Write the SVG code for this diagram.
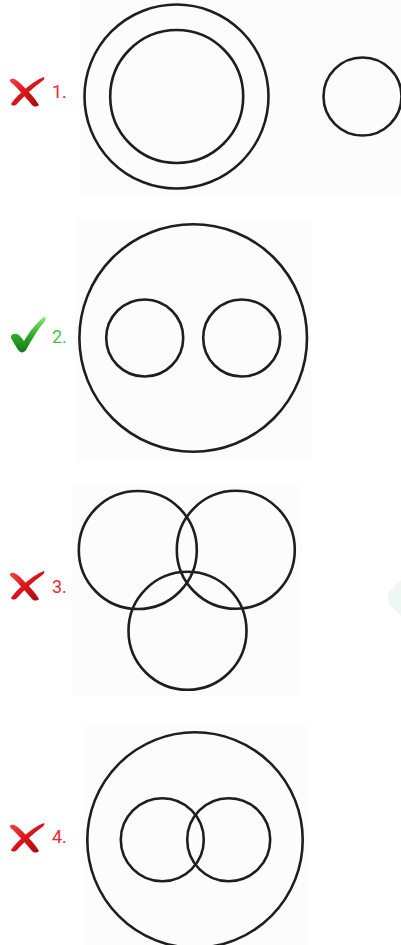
<svg xmlns="http://www.w3.org/2000/svg" width="401" height="945" viewBox="0 0 401 945">
  <defs>
    <style>
      .c { fill: none; stroke: #1e1e1e; stroke-width: 2.6; }
      .bg { fill: #fdfcfc; }
      .lblR { font-family: "Roboto", "Liberation Sans", sans-serif; font-size: 18px; fill: #f2262b; }
      .lblG { font-family: "Roboto", "Liberation Sans", sans-serif; font-size: 18px; fill: #45c24a; }
    </style>
    <linearGradient id="redg" x1="0" y1="0" x2="1" y2="1">
      <stop offset="0" stop-color="#f0453f"/>
      <stop offset="0.5" stop-color="#d8141a"/>
      <stop offset="1" stop-color="#a80c10"/>
    </linearGradient>
    <linearGradient id="greeng" x1="0" y1="0" x2="0" y2="1">
      <stop offset="0" stop-color="#8ee37a"/>
      <stop offset="0.5" stop-color="#2fae2a"/>
      <stop offset="1" stop-color="#137a14"/>
    </linearGradient>
    <g id="redx">
      <path d="M-15,-13 C-12,-14 -9,-12 -5,-8 C2,-1 9,6 13,13 C11,15 8,15 6,13 C0,6 -7,-2 -13,-8 C-16,-10 -17,-12 -15,-13 Z" fill="url(#redg)"/>
      <path d="M18,-15 C19,-14 18,-12 15,-10 C7,-4 -2,4 -9,12 C-11,14 -14,14 -15,12 C-13,9 -8,3 -2,-2 C5,-8 12,-13 18,-15 Z" fill="url(#redg)"/>
    </g>
  </defs>

  <rect class="bg" x="80" y="0" width="321" height="195"/>
  <rect class="bg" x="75" y="218" width="236" height="240"/>
  <rect class="bg" x="72" y="482" width="230" height="215"/>
  <rect class="bg" x="82" y="726" width="228" height="219"/>

  <path d="M401,580 L389,592 Q386,598 389,604 L401,616 Z" fill="#eef7f2"/>

  <g id="item1">
    <use href="#redx" x="26" y="92"/>
    <text class="lblR" x="52" y="98">1.</text>
    <circle class="c" cx="176.5" cy="96.5" r="92"/>
    <circle class="c" cx="176.7" cy="96.5" r="66.5"/>
    <circle class="c" cx="362.5" cy="96.5" r="39"/>
  </g>

  <g id="item2">
    <path d="M11,336 C13,333 17,333 20,336 L24,341 C30,331 37,322 44,317 C46,317 46,319 45,321 C38,329 32,339 26,350 C24,353 21,353 19,351 C16,347 13,341 11,338 Z" fill="url(#greeng)"/>
    <text class="lblG" x="52" y="343">2.</text>
    <circle class="c" cx="193.2" cy="338" r="113.8"/>
    <circle class="c" cx="144.7" cy="338" r="38.5"/>
    <circle class="c" cx="241.7" cy="338" r="38.5"/>
  </g>

  <g id="item3">
    <use href="#redx" x="26" y="586"/>
    <text class="lblR" x="52" y="593">3.</text>
    <circle class="c" cx="137.8" cy="550" r="59"/>
    <circle class="c" cx="235.8" cy="549.8" r="59"/>
    <circle class="c" cx="187.5" cy="630.8" r="59"/>
  </g>

  <g id="item4">
    <use href="#redx" x="26" y="838"/>
    <text class="lblR" x="52" y="843">4.</text>
    <circle class="c" cx="195" cy="840" r="107.7"/>
    <circle class="c" cx="162.3" cy="839.7" r="41.5"/>
    <circle class="c" cx="228.7" cy="839.7" r="41.5"/>
  </g>
</svg>
